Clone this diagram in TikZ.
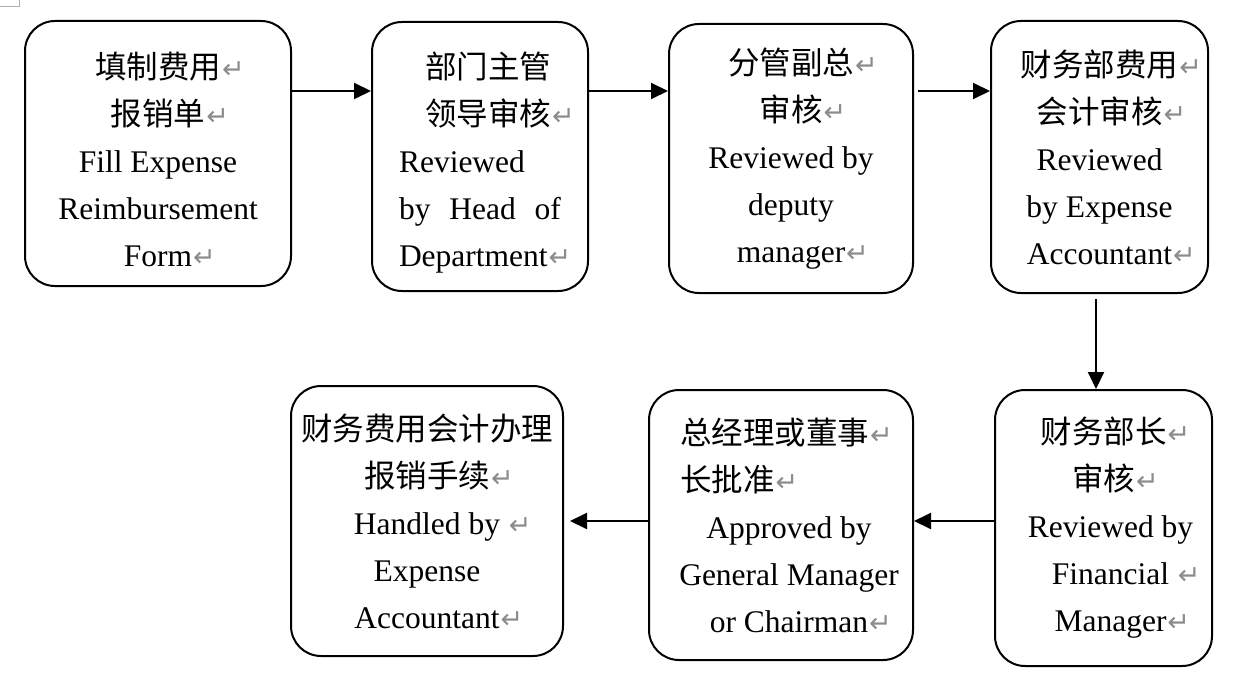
\documentclass[tikz,border=0pt]{standalone}
\usepackage{fontspec}
\setmainfont{Liberation Serif}
\newfontfamily\cjk{Noto Sans CJK SC}
\newfontfamily\retfont{DejaVu Sans}
\usetikzlibrary{arrows.meta}

\definecolor{retgray}{gray}{0.55}
% paragraph mark, optional space before it
\newcommand\parret[1][]{\rlap{#1\kern1pt\textcolor{retgray}{\retfont\fontsize{27}{27}\selectfont ↵}}}
\newcommand\lowstrut{\rule{0pt}{38pt}} % pushes the text a bit down

\tikzset{every picture/.style={line width=2pt}}
\tikzset{
  box/.style={draw, rounded corners=30pt, align=center, inner sep=0pt,
              font=\fontsize{31.5}{47}\selectfont},
  arr/.style={-{Triangle[length=17pt,width=16pt]}},
}

\begin{document}
\begin{tikzpicture}[x=1pt, y=-1pt]
  \useasboundingbox (0,0) rectangle (1250,687);
  \draw[retgray!70, line width=1pt] (0,7) -- (19,7) -- (19,0);

  % upper row, left to right
  \node[box, minimum width=266pt, minimum height=265pt] (fill) at (158,153.5)
    {\lowstrut{\cjk 填制费用}\parret\\ {\cjk 报销单}\parret\\ Fill Expense\\ Reimbursement\\ Form\parret};
  \node[box, align=left, minimum width=216pt, minimum height=269pt] (dept) at (480,156.5)
    {\lowstrut\hspace*{26pt}{\cjk 部门主管}\\ \hspace*{26pt}{\cjk 领导审核}\parret\\ Reviewed\\
     \makebox[162pt][s]{by Head of}\\ Department\parret};
  \node[box, minimum width=244pt, minimum height=269pt] (deputy) at (791,158.5)
    {{\cjk 分管副总}\parret\\ {\cjk 审核}\parret\\ Reviewed by\\ deputy\\ manager\parret};
  \node[box, minimum width=217pt, minimum height=272pt] (acct) at (1099.5,157)
    {{\cjk 财务部费用}\parret\\ {\cjk 会计审核}\parret\\ Reviewed\\ by Expense\\ Accountant\parret};

  % lower row, right to left
  \node[box, minimum width=217pt, minimum height=276pt] (finmgr) at (1103.5,528)
    {{\cjk 财务部长}\parret\\ {\cjk 审核}\parret\\ \hspace*{14pt}Reviewed by\\
     \hspace*{14pt}Financial\parret[\ ]\\ \hspace*{14pt}Manager\parret};
  \node[box, minimum width=264pt, minimum height=270pt] (approve) at (781,525)
    {\hspace*{16pt}\makebox[218pt][l]{{\cjk 总经理或董事}\parret}\\
     \hspace*{16pt}\makebox[218pt][l]{{\cjk 长批准}\parret}\\
     \hspace*{16pt}Approved by\\ \hspace*{16pt}General Manager\\ \hspace*{16pt}or Chairman\parret};
  \node[box, minimum width=272pt, minimum height=270pt] (handle) at (427,521)
    {{\cjk 财务费用会计办理}\\ {\cjk 报销手续}\parret\\ Handled by\parret[\ ]\\ Expense\\ Accountant\parret};

  % connectors
  \coordinate (row1) at (0,91);
  \coordinate (row2) at (0,521);
  \coordinate (col) at (1096,0);
  \foreach \a/\b/\g in {fill/dept/0, dept/deputy/0, deputy/acct/4}
    \draw[arr, shorten <=\g pt] (\a.east |- row1) -- (\b.west |- row1);
  \draw[arr, shorten <=5pt] (acct.south -| col) -- (finmgr.north -| col);
  \foreach \a/\b/\g in {finmgr/approve/0, approve/handle/6}
    \draw[arr, shorten >=\g pt] (\a.west |- row2) -- (\b.east |- row2);
\end{tikzpicture}
\end{document}
